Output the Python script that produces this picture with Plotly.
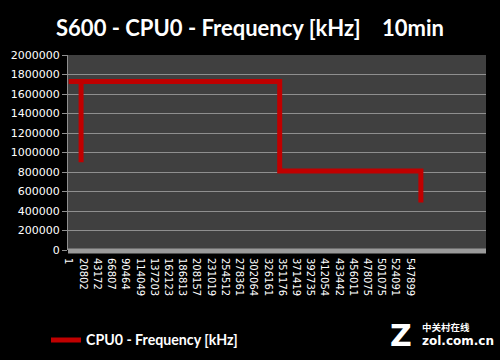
import plotly.graph_objects as go

# Category labels shown on the x axis (sample time stamps)
tick_labels = ["1", "20802", "43172", "66807", "90464", "114049", "137203", "162123",
               "186813", "208157", "231019", "254512", "278361", "302064", "326161",
               "351176", "371419", "392735", "412054", "433442", "456011", "478075",
               "501075", "524091", "547899"]
# Positions of the labels, in units of label intervals
tick_pos = list(range(len(tick_labels)))

# Frequency series (kHz), position measured in label intervals
freq_pos = [0.0, 0.87, 0.87, 0.87, 14.84, 14.84, 24.77, 24.77]
freq_khz = [1728000, 1728000, 900000, 1728000, 1728000, 810000, 810000, 486000]

y_ticks = [0, 200000, 400000, 600000, 800000, 1000000, 1200000, 1400000,
           1600000, 1800000, 2000000]

fig = go.Figure()
fig.add_trace(go.Scatter(
    x=freq_pos, y=freq_khz, mode="lines",
    line=dict(color="#c00000", width=5),
    name="CPU0 - Frequency [kHz]",
))

fig.update_layout(
    width=500, height=360,
    paper_bgcolor="#000000",
    plot_bgcolor="#404040",
    margin=dict(l=68, r=14, t=55, b=110),
    title=dict(
        text="S600 - CPU0 - Frequency [kHz]\u00a0\u00a0\u00a0\u00a010min",
        x=0.5, xanchor="center", y=0.922, yanchor="middle",
        font=dict(family="Lato", size=22, color="#ffffff", weight="bold"),
    ),
    showlegend=True,
    legend=dict(
        orientation="h", xref="container", yref="container",
        x=0.092, xanchor="left", y=0.055, yanchor="middle",
        font=dict(family="Lato", size=14.2, color="#ffffff", weight="bold"),
        bgcolor="rgba(0,0,0,0)",
    ),
    xaxis=dict(
        range=[-0.05, 29.35], automargin=False,
        tickmode="array", tickvals=tick_pos, ticktext=tick_labels,
        tickangle=90, showgrid=False, zeroline=False,
        ticks="", ticklabelstandoff=7,
        tickfont=dict(family="DejaVu Sans", size=10, color="#ffffff"),
        showline=False,
    ),
    yaxis=dict(
        range=[0, 2000000], automargin=False,
        tickmode="array", tickvals=y_ticks,
        tickformat="d",
        showgrid=True, gridcolor="#8f8f8f", gridwidth=1,
        zeroline=False,
        ticks="outside", ticklen=5, tickcolor="#8f8f8f",
        showline=True, linecolor="#8f8f8f", linewidth=1,
        tickfont=dict(family="DejaVu Sans", size=11, color="#ffffff"),
    ),
    shapes=[
        dict(type="rect", xref="paper", yref="paper", x0=0, x1=1, y0=-0.018, y1=0.008,
             fillcolor="#9a9a9a", line=dict(width=0), layer="above"),
    ],
    annotations=[
        dict(text="Z", xref="paper", yref="paper", x=0.797, y=-0.441,
             xanchor="center", yanchor="middle", showarrow=False,
             font=dict(family="DejaVu Sans", size=30, color="#ffffff", weight="bold")),
        dict(text="中关村在线", xref="paper", yref="paper", x=0.842, y=-0.397,
             xanchor="left", yanchor="middle", showarrow=False,
             font=dict(family="Noto Sans CJK SC", size=9.5, color="#ffffff", weight="bold")),
        dict(text="zol.com.cn", xref="paper", yref="paper", x=0.842, y=-0.467,
             xanchor="left", yanchor="middle", showarrow=False,
             font=dict(family="DejaVu Sans", size=12, color="#ffffff", weight="bold")),
    ],
)

fig.write_html(
    "out.html",
    config={"displayModeBar": False},
    post_script="document.body.style.margin='0';document.body.style.background='#000';",
)
